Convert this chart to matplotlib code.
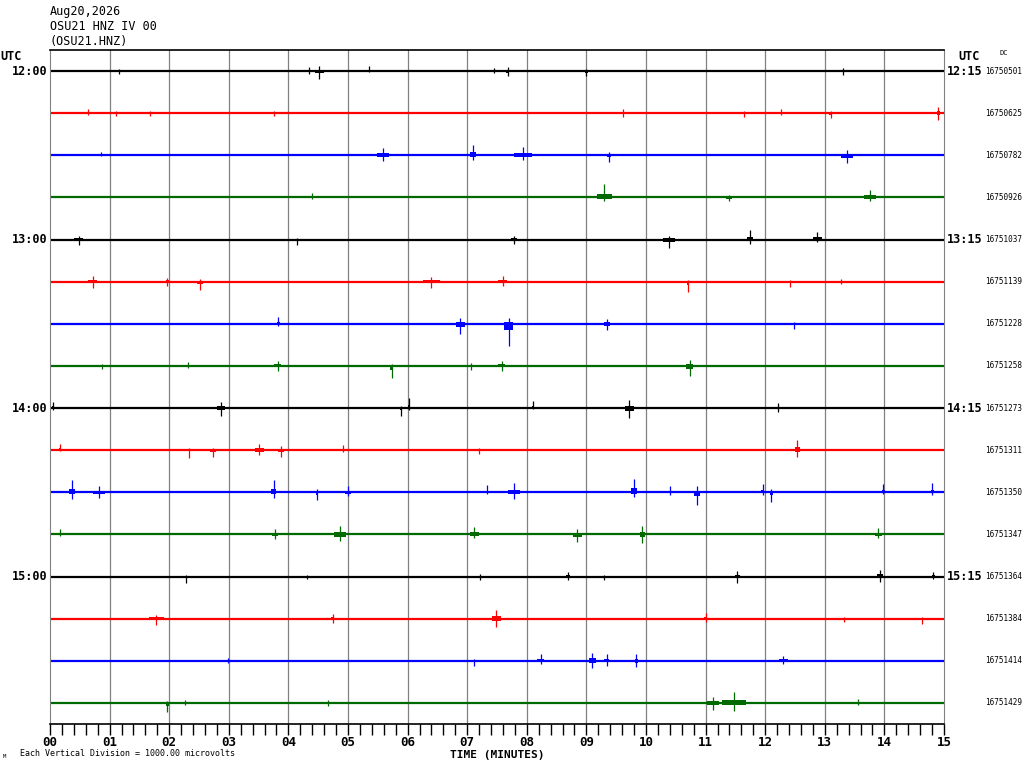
import numpy as np
import matplotlib
matplotlib.use("Agg")
import matplotlib.pyplot as plt

# header / labels
header_lines = ["Aug20,2026", "OSU21 HNZ IV 00", "(OSU21.HNZ)"]
left_times = ["12:00", "13:00", "14:00", "15:00"]
right_times = ["12:15", "13:15", "14:15", "15:15"]
dc_values = ["16750501", "16750625", "16750782", "16750926",
             "16751037", "16751139", "16751228", "16751258",
             "16751273", "16751311", "16751350", "16751347",
             "16751364", "16751384", "16751414", "16751429"]
trace_colors = ["black", "red", "blue", "#006a00"]
minute_labels = ["%02d" % m for m in range(16)]

# events per trace:
# (minute, up px, down px, burst width in minutes)
events = [
    [(1.15, 2, 3, 0.15), (4.35, 4, 3, 0.2), (4.52, 5, 8, 0.15), (5.36, 5, 1, 0.03),
     (7.45, 3, 2, 0.25), (7.68, 4, 5, 0.05), (9.0, 2, 5, 0.05), (13.3, 3, 4, 0.15)],
    [(0.63, 4, 2, 0.05), (1.1, 2, 3, 0.1), (1.68, 2, 3, 0.2), (3.75, 2, 3, 0.15),
     (9.62, 4, 4, 0.1), (11.65, 2, 4, 0.05), (12.27, 4, 2, 0.1), (13.1, 2, 5, 0.05),
     (14.9, 6, 7, 0.05)],
    [(0.85, 3, 1, 0.03), (5.58, 7, 6, 0.2), (7.1, 10, 5, 0.1), (7.94, 8, 5, 0.3),
     (9.38, 3, 7, 0.08), (13.38, 5, 8, 0.2)],
    [(4.4, 4, 2, 0.05), (9.3, 13, 4, 0.25), (11.4, 2, 4, 0.1), (13.76, 7, 4, 0.2)],
    [(0.48, 4, 5, 0.15), (4.14, 2, 5, 0.08), (7.78, 4, 4, 0.1), (10.38, 4, 8, 0.2),
     (11.74, 10, 4, 0.1), (12.87, 8, 2, 0.15)],
    [(0.72, 6, 6, 0.15), (1.97, 4, 4, 0.05), (2.52, 3, 8, 0.1), (6.4, 5, 6, 0.3),
     (7.6, 6, 4, 0.15), (10.71, 2, 10, 0.03), (12.42, 2, 5, 0.03), (13.28, 3, 2, 0.1)],
    [(3.83, 7, 2, 0.05), (6.88, 6, 10, 0.15), (7.7, 6, 22, 0.15), (9.34, 5, 6, 0.1),
     (12.48, 2, 5, 0.08)],
    [(0.87, 2, 3, 0.05), (2.31, 4, 2, 0.1), (3.82, 5, 5, 0.12), (5.73, 2, 12, 0.05),
     (7.07, 3, 4, 0.1), (7.58, 5, 5, 0.12), (10.73, 6, 10, 0.12)],
    [(0.05, 6, 2, 0.03), (2.87, 6, 8, 0.12), (5.89, 2, 8, 0.03), (6.03, 10, 2, 0.03),
     (8.1, 7, 1, 0.03), (9.72, 8, 10, 0.15), (12.22, 5, 4, 0.4)],
    [(0.17, 6, 1, 0.03), (2.34, 2, 8, 0.03), (2.74, 2, 7, 0.1), (3.51, 6, 5, 0.15),
     (3.88, 4, 7, 0.1), (4.91, 5, 2, 0.08), (7.2, 2, 4, 0.05), (12.54, 10, 7, 0.08)],
    [(0.37, 12, 7, 0.1), (0.82, 6, 6, 0.2), (3.75, 12, 6, 0.1), (4.48, 3, 8, 0.05),
     (5.0, 6, 4, 0.1), (7.34, 7, 2, 0.03), (7.78, 9, 7, 0.2), (9.8, 13, 5, 0.1),
     (10.4, 6, 3, 0.1), (10.86, 6, 13, 0.1), (11.96, 8, 3, 0.05), (12.1, 3, 10, 0.05),
     (13.98, 8, 2, 0.05), (14.8, 9, 3, 0.05)],
    [(0.17, 5, 2, 0.05), (3.78, 5, 5, 0.1), (4.86, 8, 7, 0.2), (7.12, 7, 4, 0.15),
     (8.85, 5, 8, 0.15), (9.94, 8, 9, 0.08), (13.9, 6, 4, 0.12)],
    [(2.28, 2, 6, 0.03), (4.31, 2, 2, 0.1), (7.22, 3, 3, 0.15), (8.69, 5, 3, 0.08),
     (9.29, 2, 3, 0.15), (11.53, 6, 6, 0.08), (13.93, 7, 5, 0.1), (14.82, 5, 2, 0.05)],
    [(1.78, 4, 6, 0.25), (4.74, 5, 4, 0.05), (7.49, 9, 8, 0.15), (11.0, 6, 3, 0.05),
     (13.33, 2, 3, 0.1), (14.63, 2, 5, 0.1)],
    [(2.98, 3, 2, 0.05), (7.12, 2, 5, 0.12), (8.23, 7, 3, 0.12), (9.1, 8, 7, 0.12),
     (9.34, 7, 5, 0.08), (9.84, 7, 6, 0.05), (12.3, 5, 3, 0.15)],
    [(1.97, 2, 9, 0.05), (2.26, 3, 2, 0.1), (4.67, 3, 3, 0.1), (11.12, 6, 7, 0.2),
     (11.48, 11, 8, 0.4), (13.55, 4, 2, 0.05)],
]

n_traces = len(dc_values)
px_per_trace = 42.125

fig = plt.figure(figsize=(10.24, 7.68), dpi=100)
ax = fig.add_axes([50 / 1024, 44 / 768, 894 / 1024, 674 / 768])
ax.set_xlim(0, 15)
ax.set_ylim(n_traces, 0)

# minute grid lines
for m in range(1, 15):
    ax.axvline(m, color="#808080", lw=0.9, zorder=1)

for i in range(n_traces):
    col = trace_colors[i % 4]
    y0 = i + 0.5
    ax.plot([0, 15], [y0, y0], color=col, lw=1.6, zorder=2, solid_capstyle="butt")
    for m, up, down, w in events[i]:
        u = up / px_per_trace
        d = down / px_per_trace
        ax.vlines(m, y0 - u, y0 + d, color=col, lw=0.9, zorder=3)
        xs = [m - w / 2, m + w / 2]
        ax.fill_between(xs, y0 - u * 0.3, y0 + d * 0.3, color=col, lw=0, zorder=3)

# spines
for s in ["left", "right"]:
    ax.spines[s].set_color("#808080")
for s in ["top", "bottom"]:
    ax.spines[s].set_color("black")
    ax.spines[s].set_linewidth(1.2)

mono = "DejaVu Sans Mono"
ax.set_yticks([])
ax.set_xticks(range(16))
ax.set_xticklabels(minute_labels, fontfamily=mono, fontweight="bold", fontsize=9)
ax.set_xticks(np.arange(0, 15.01, 0.2), minor=True)
ax.tick_params(axis="x", which="both", direction="out", length=8, width=1, color="black", pad=1)
ax.set_xlabel("TIME (MINUTES)", fontfamily=mono, fontweight="bold", fontsize=8, labelpad=0)

# header
for k, line in enumerate(header_lines):
    fig.text(50 / 1024, 1 - (12 + 15 * k) / 768, line, fontfamily=mono, fontsize=8.5,
             va="center", ha="left")

fig.text(0, 1 - 56 / 768, "UTC", fontfamily=mono, fontweight="bold", fontsize=8.5, va="center")
fig.text(958 / 1024, 1 - 56 / 768, "UTC", fontfamily=mono, fontweight="bold", fontsize=8.5, va="center")
fig.text(1000 / 1024, 1 - 53 / 768, "DC", fontfamily=mono, fontsize=5, va="center")

for k in range(4):
    yt = 4 * k + 0.5
    ax.text(-0.04, yt, left_times[k], ha="right", va="center",
            fontfamily=mono, fontweight="bold", fontsize=8.5)
    ax.text(15.04, yt, right_times[k], ha="left", va="center",
            fontfamily=mono, fontweight="bold", fontsize=8.5)

for i in range(n_traces):
    fig.text(985 / 1024, 1 - (50 + (i + 0.5) * px_per_trace) / 768, dc_values[i],
             ha="left", va="center", fontfamily=mono, fontsize=5.5)

fig.text(3 / 1024, 1 - 757 / 768, "M", fontfamily=mono, fontsize=4, va="center")
fig.text(20 / 1024, 1 - 754 / 768, "Each Vertical Division = 1000.00 microvolts",
         fontfamily=mono, fontsize=6, va="center")

fig.savefig("out.png", dpi=100)
